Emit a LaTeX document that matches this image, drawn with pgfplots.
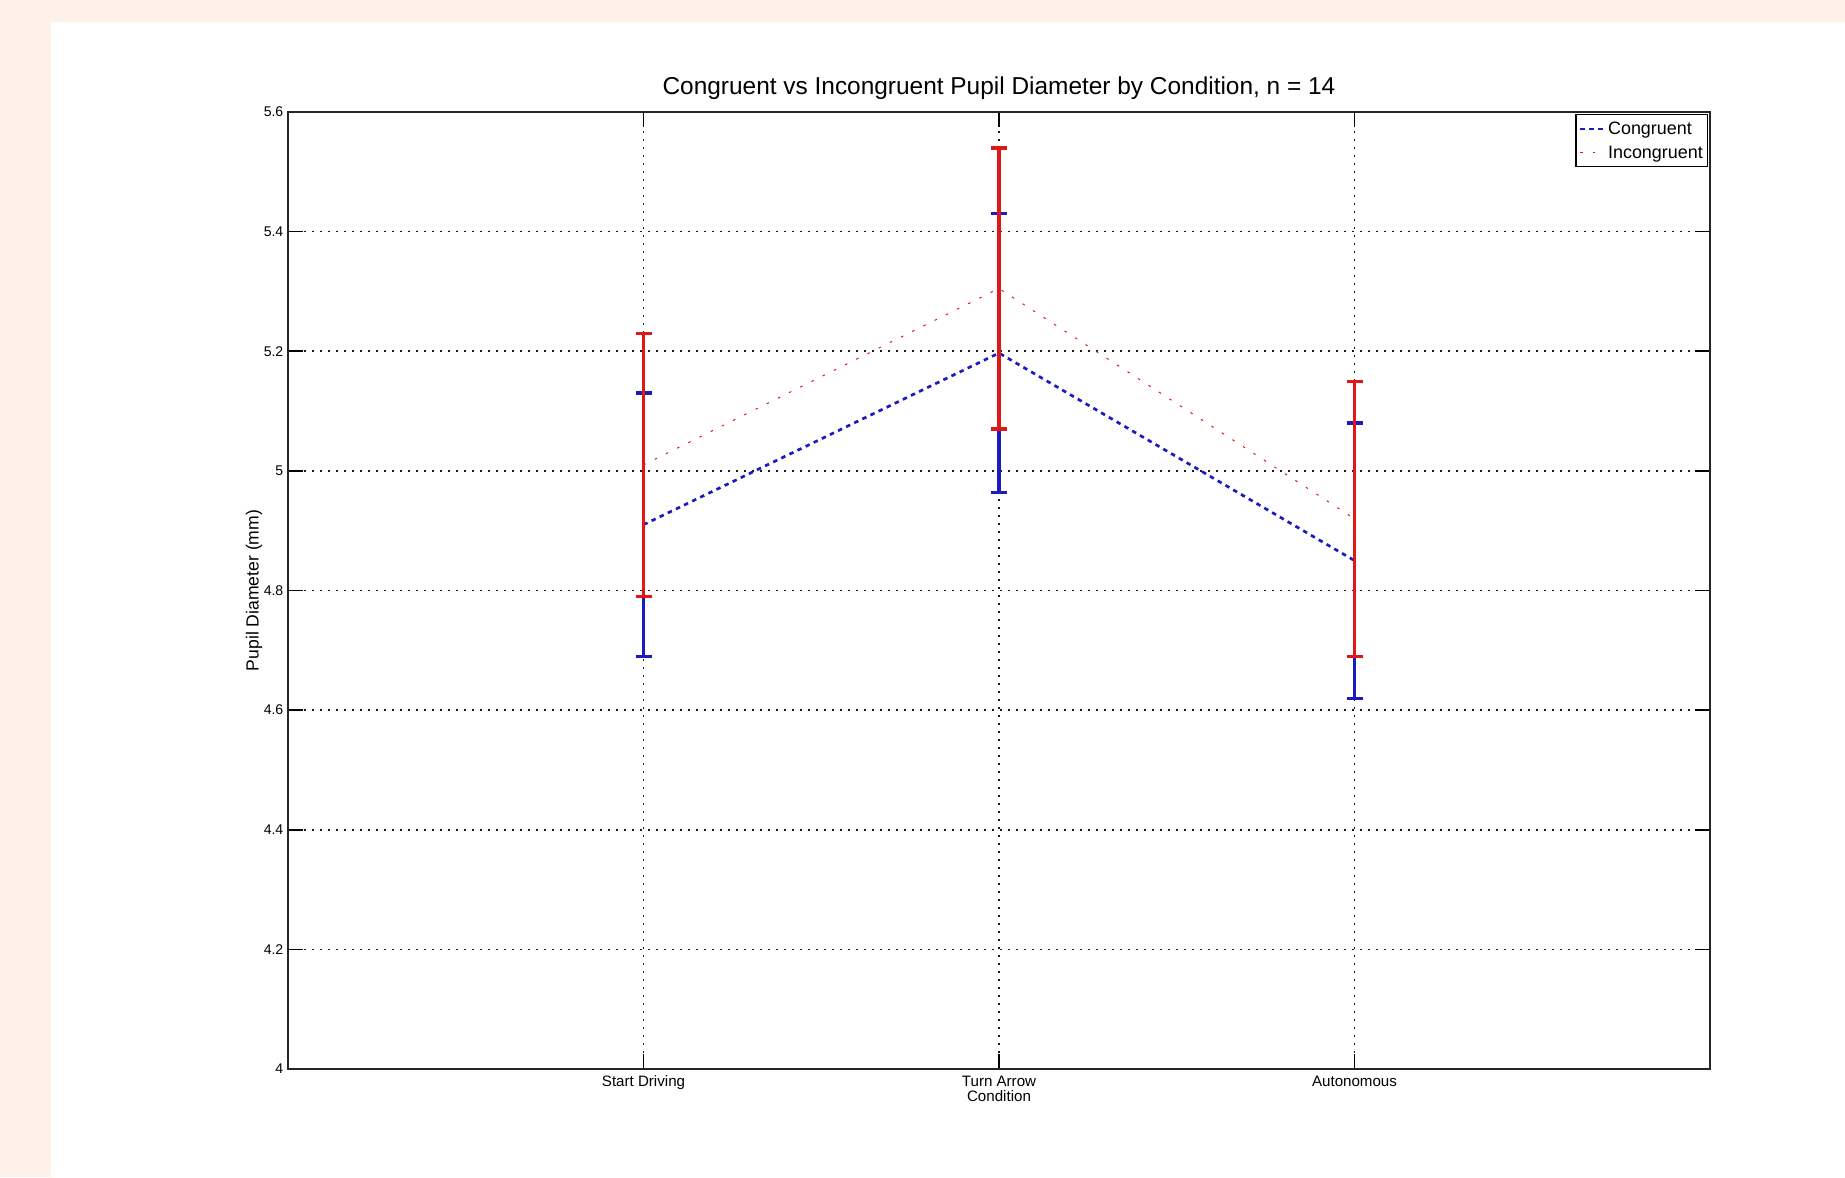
\documentclass[border=0pt]{standalone}
\usepackage{pgfplots}
\pgfplotsset{compat=1.18}
\usepackage{fontspec}
\setmainfont{Liberation Sans}
\definecolor{peach}{RGB}{253,241,233}
\definecolor{cblue}{RGB}{28,28,190}
\definecolor{cred}{RGB}{225,22,22}
\begin{document}
\begin{tikzpicture}
\fill[peach] (0,0) rectangle (184.5mm,117.7mm);
\fill[white] (5.1mm,0) rectangle (184.5mm,115.5mm);
\useasboundingbox (0,0) rectangle (184.5mm,117.7mm);
\begin{axis}[
  at={(28.8mm,10.8mm)}, anchor=south west,
  scale only axis, width=142.2mm, height=95.7mm,
  xmin=0, xmax=4, ymin=4, ymax=5.6,
  xtick={1,2,3},
  xticklabels={Start Driving,{Turn Arrow\\Condition},Autonomous},
  xticklabel style={align=center, font=\fontsize{4.3}{4.4}\selectfont, inner sep=0.6mm},
  ytick={4,4.2,4.4,4.6,4.8,5,5.2,5.4,5.6},
  yticklabels={4,4.2,4.4,4.6,4.8,5,5.2,5.4,5.6},
  yticklabel style={font=\fontsize{4}{4.8}\selectfont, inner sep=0.4mm},
  tick align=inside, tick pos=both, major tick length=1.5mm,
  every tick/.style={black, line width=0.15mm},
  axis line style={black!85, line width=0.17mm},
  grid=major,
  major grid style={black!90, line width=0.16mm, dash pattern=on 0.18mm off 0.62mm},
  title={Congruent vs Incongruent Pupil Diameter by Condition, n = 14},
  title style={font=\fontsize{6.95}{7.5}\selectfont, at={(axis description cs:0.5,1)}, anchor=base, yshift=-0.31mm},
  ylabel={Pupil Diameter (mm)},
  ylabel style={font=\fontsize{5}{6}\selectfont, at={(axis description cs:-0.0239,0.5)}, anchor=center},
  legend style={at={(axis description cs:1,1)}, anchor=north east, xshift=-0.2mm, yshift=-0.2mm,
    font=\fontsize{5.1}{6}\selectfont, draw=black, line width=0.15mm, inner xsep=0.3mm, inner ysep=0.6mm,
    nodes={inner sep=0.15mm, text depth=0.1mm}, row sep=0.7mm, legend cell align=left},
  legend image code/.code={\draw[#1] (0mm,0mm) -- (2.5mm,0mm);},
]
\addplot[cblue, line width=0.27mm, dash pattern=on 0.45mm off 0.45mm, mark=none,
  error bars/.cd, y dir=both, y explicit,
  error bar style={solid, line width=0.33mm, cblue},
  error mark options={solid, rotate=90, line width=0.33mm, mark size=0.8mm, cblue}]
  coordinates {
  (1,4.91) +- (0,0.22)
  (2,5.197) +- (0,0.233)
  (3,4.85) +- (0,0.23)
  };
\addlegendentry{Congruent}
\addplot[cred, line width=0.1mm, dash pattern=on 0.25mm off 1mm, mark=none,
  error bars/.cd, y dir=both, y explicit,
  error bar style={solid, line width=0.33mm, cred},
  error mark options={solid, rotate=90, line width=0.33mm, mark size=0.8mm, cred}]
  coordinates {
  (1,5.01) +- (0,0.22)
  (2,5.305) +- (0,0.235)
  (3,4.92) +- (0,0.23)
  };
\addlegendentry{Incongruent}
\end{axis}
\end{tikzpicture}
\end{document}
